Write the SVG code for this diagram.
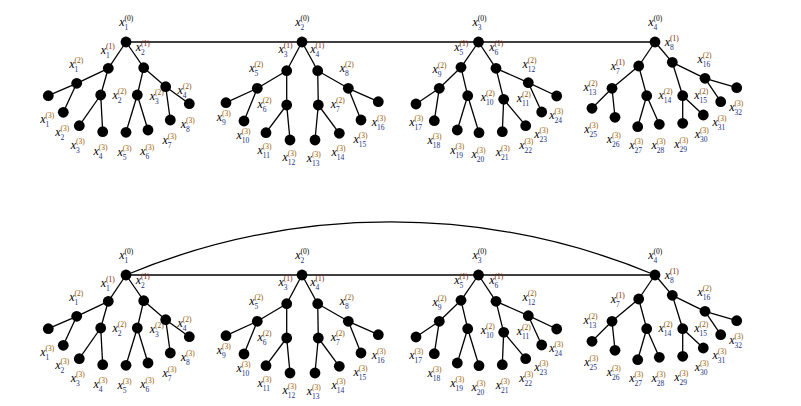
<svg xmlns="http://www.w3.org/2000/svg" width="801" height="406" viewBox="0 0 801 406">
<style>
.e{stroke:#000;stroke-width:1.3;fill:none}
circle{fill:#000}
.l{font-family:"Liberation Serif","Times New Roman",serif;font-style:italic;font-size:12px;fill:#000}
.l tspan{font-style:normal;font-size:7.5px}
.p0{fill:#000}.p1{fill:#7a2200}.p2{fill:#8a5000}.p3{fill:#9a5a00}.s{fill:#1a2f80}
</style>
<rect width="801" height="406" fill="#fff"/>
<g id="connectors">
<g id="top-edges">
<line class="e" x1="126" y1="42" x2="655" y2="42"/>
<line class="e" x1="126" y1="42" x2="108.3" y2="68.3"/><line class="e" x1="126" y1="42" x2="143.7" y2="67.7"/>
<line class="e" x1="108.3" y1="68.3" x2="76.7" y2="83.3"/><line class="e" x1="108.3" y1="68.3" x2="100.7" y2="95"/>
<line class="e" x1="143.7" y1="67.7" x2="137.3" y2="95"/><line class="e" x1="143.7" y1="67.7" x2="165.7" y2="86.7"/>
<line class="e" x1="76.7" y1="83.3" x2="48.3" y2="95.7"/><line class="e" x1="76.7" y1="83.3" x2="63.3" y2="112.3"/>
<line class="e" x1="100.7" y1="95" x2="79.3" y2="125.7"/><line class="e" x1="100.7" y1="95" x2="102.7" y2="131.7"/>
<line class="e" x1="137.3" y1="95" x2="126" y2="132.3"/><line class="e" x1="137.3" y1="95" x2="148" y2="130"/>
<line class="e" x1="165.7" y1="86.7" x2="170.3" y2="120"/><line class="e" x1="165.7" y1="86.7" x2="189.3" y2="103.7"/>
<line class="e" x1="302" y1="42" x2="286.7" y2="70.7"/><line class="e" x1="302" y1="42" x2="317.7" y2="70.7"/>
<line class="e" x1="286.7" y1="70.7" x2="257.3" y2="88.3"/><line class="e" x1="286.7" y1="70.7" x2="286.7" y2="105"/>
<line class="e" x1="317.7" y1="70.7" x2="318.3" y2="105"/><line class="e" x1="317.7" y1="70.7" x2="348.3" y2="88.3"/>
<line class="e" x1="257.3" y1="88.3" x2="226" y2="102.7"/><line class="e" x1="257.3" y1="88.3" x2="244" y2="121"/>
<line class="e" x1="286.7" y1="105" x2="266" y2="132.7"/><line class="e" x1="286.7" y1="105" x2="290" y2="140"/>
<line class="e" x1="318.3" y1="105" x2="315" y2="140"/><line class="e" x1="318.3" y1="105" x2="339.3" y2="133.3"/>
<line class="e" x1="348.3" y1="88.3" x2="361" y2="120"/><line class="e" x1="348.3" y1="88.3" x2="378.3" y2="101.7"/>
<line class="e" x1="478.5" y1="42" x2="461" y2="67.3"/><line class="e" x1="478.5" y1="42" x2="496" y2="68.3"/>
<line class="e" x1="461" y1="67.3" x2="439.3" y2="88.3"/><line class="e" x1="461" y1="67.3" x2="467.7" y2="95.7"/>
<line class="e" x1="496" y1="68.3" x2="503.7" y2="99.3"/><line class="e" x1="496" y1="68.3" x2="528.3" y2="82.7"/>
<line class="e" x1="439.3" y1="88.3" x2="416" y2="104"/><line class="e" x1="439.3" y1="88.3" x2="434.3" y2="120.7"/>
<line class="e" x1="467.7" y1="95.7" x2="457.3" y2="130"/><line class="e" x1="467.7" y1="95.7" x2="479" y2="132.7"/>
<line class="e" x1="503.7" y1="99.3" x2="502.3" y2="131.7"/><line class="e" x1="503.7" y1="99.3" x2="525.7" y2="125.7"/>
<line class="e" x1="528.3" y1="82.7" x2="541.7" y2="112"/><line class="e" x1="528.3" y1="82.7" x2="556.7" y2="96"/>
<line class="e" x1="655" y1="42" x2="638.7" y2="66"/><line class="e" x1="655" y1="42" x2="672.3" y2="62.3"/>
<line class="e" x1="638.7" y1="66" x2="612" y2="88.3"/><line class="e" x1="638.7" y1="66" x2="646.7" y2="95.7"/>
<line class="e" x1="672.3" y1="62.3" x2="682.7" y2="95.7"/><line class="e" x1="672.3" y1="62.3" x2="705" y2="78.3"/>
<line class="e" x1="612" y1="88.3" x2="592" y2="108.3"/><line class="e" x1="612" y1="88.3" x2="615" y2="117.3"/>
<line class="e" x1="646.7" y1="95.7" x2="637.7" y2="126.7"/><line class="e" x1="646.7" y1="95.7" x2="659.3" y2="124.3"/>
<line class="e" x1="682.7" y1="95.7" x2="682.7" y2="123.3"/><line class="e" x1="682.7" y1="95.7" x2="703.3" y2="115"/>
<line class="e" x1="705" y1="78.3" x2="720.7" y2="101.7"/><line class="e" x1="705" y1="78.3" x2="736.7" y2="87.7"/>
</g>
<g id="bottom-edges" transform="translate(0,233)">
<path class="e" d="M126 42A686 686 0 0 1 655 42"/>
<line class="e" x1="126" y1="42" x2="655" y2="42"/>
<line class="e" x1="126" y1="42" x2="108.3" y2="68.3"/><line class="e" x1="126" y1="42" x2="143.7" y2="67.7"/>
<line class="e" x1="108.3" y1="68.3" x2="76.7" y2="83.3"/><line class="e" x1="108.3" y1="68.3" x2="100.7" y2="95"/>
<line class="e" x1="143.7" y1="67.7" x2="137.3" y2="95"/><line class="e" x1="143.7" y1="67.7" x2="165.7" y2="86.7"/>
<line class="e" x1="76.7" y1="83.3" x2="48.3" y2="95.7"/><line class="e" x1="76.7" y1="83.3" x2="63.3" y2="112.3"/>
<line class="e" x1="100.7" y1="95" x2="79.3" y2="125.7"/><line class="e" x1="100.7" y1="95" x2="102.7" y2="131.7"/>
<line class="e" x1="137.3" y1="95" x2="126" y2="132.3"/><line class="e" x1="137.3" y1="95" x2="148" y2="130"/>
<line class="e" x1="165.7" y1="86.7" x2="170.3" y2="120"/><line class="e" x1="165.7" y1="86.7" x2="189.3" y2="103.7"/>
<line class="e" x1="302" y1="42" x2="286.7" y2="70.7"/><line class="e" x1="302" y1="42" x2="317.7" y2="70.7"/>
<line class="e" x1="286.7" y1="70.7" x2="257.3" y2="88.3"/><line class="e" x1="286.7" y1="70.7" x2="286.7" y2="105"/>
<line class="e" x1="317.7" y1="70.7" x2="318.3" y2="105"/><line class="e" x1="317.7" y1="70.7" x2="348.3" y2="88.3"/>
<line class="e" x1="257.3" y1="88.3" x2="226" y2="102.7"/><line class="e" x1="257.3" y1="88.3" x2="244" y2="121"/>
<line class="e" x1="286.7" y1="105" x2="266" y2="132.7"/><line class="e" x1="286.7" y1="105" x2="290" y2="140"/>
<line class="e" x1="318.3" y1="105" x2="315" y2="140"/><line class="e" x1="318.3" y1="105" x2="339.3" y2="133.3"/>
<line class="e" x1="348.3" y1="88.3" x2="361" y2="120"/><line class="e" x1="348.3" y1="88.3" x2="378.3" y2="101.7"/>
<line class="e" x1="478.5" y1="42" x2="461" y2="67.3"/><line class="e" x1="478.5" y1="42" x2="496" y2="68.3"/>
<line class="e" x1="461" y1="67.3" x2="439.3" y2="88.3"/><line class="e" x1="461" y1="67.3" x2="467.7" y2="95.7"/>
<line class="e" x1="496" y1="68.3" x2="503.7" y2="99.3"/><line class="e" x1="496" y1="68.3" x2="528.3" y2="82.7"/>
<line class="e" x1="439.3" y1="88.3" x2="416" y2="104"/><line class="e" x1="439.3" y1="88.3" x2="434.3" y2="120.7"/>
<line class="e" x1="467.7" y1="95.7" x2="457.3" y2="130"/><line class="e" x1="467.7" y1="95.7" x2="479" y2="132.7"/>
<line class="e" x1="503.7" y1="99.3" x2="502.3" y2="131.7"/><line class="e" x1="503.7" y1="99.3" x2="525.7" y2="125.7"/>
<line class="e" x1="528.3" y1="82.7" x2="541.7" y2="112"/><line class="e" x1="528.3" y1="82.7" x2="556.7" y2="96"/>
<line class="e" x1="655" y1="42" x2="638.7" y2="66"/><line class="e" x1="655" y1="42" x2="672.3" y2="62.3"/>
<line class="e" x1="638.7" y1="66" x2="612" y2="88.3"/><line class="e" x1="638.7" y1="66" x2="646.7" y2="95.7"/>
<line class="e" x1="672.3" y1="62.3" x2="682.7" y2="95.7"/><line class="e" x1="672.3" y1="62.3" x2="705" y2="78.3"/>
<line class="e" x1="612" y1="88.3" x2="592" y2="108.3"/><line class="e" x1="612" y1="88.3" x2="615" y2="117.3"/>
<line class="e" x1="646.7" y1="95.7" x2="637.7" y2="126.7"/><line class="e" x1="646.7" y1="95.7" x2="659.3" y2="124.3"/>
<line class="e" x1="682.7" y1="95.7" x2="682.7" y2="123.3"/><line class="e" x1="682.7" y1="95.7" x2="703.3" y2="115"/>
<line class="e" x1="705" y1="78.3" x2="720.7" y2="101.7"/><line class="e" x1="705" y1="78.3" x2="736.7" y2="87.7"/>
</g>
</g>
<g id="top-nodes">
<g id="t-a0"><circle cx="126" cy="42" r="5.4"/><text class="l" transform="translate(119.2,25.8)">x<tspan class="p0" x="5.3" y="-5">(0)</tspan><tspan class="s" x="5.3" y="4">1</tspan></text></g>
<g id="t-a1"><circle cx="108.3" cy="68.3" r="5.4"/><text class="l" transform="translate(100.8,54.2)">x<tspan class="p1" x="5.3" y="-5">(1)</tspan><tspan class="s" x="5.3" y="4">1</tspan></text></g>
<g id="t-a2"><circle cx="143.7" cy="67.7" r="5.4"/><text class="l" transform="translate(135.8,50.8)">x<tspan class="p1" x="5.3" y="-5">(1)</tspan><tspan class="s" x="5.3" y="4">2</tspan></text></g>
<g id="t-a3"><circle cx="76.7" cy="83.3" r="5.4"/><text class="l" transform="translate(69.2,67.5)">x<tspan class="p2" x="5.3" y="-5">(2)</tspan><tspan class="s" x="5.3" y="4">1</tspan></text></g>
<g id="t-a4"><circle cx="100.7" cy="95" r="5.4"/><text class="l" transform="translate(112.5,99.2)">x<tspan class="p2" x="5.3" y="-5">(2)</tspan><tspan class="s" x="5.3" y="4">2</tspan></text></g>
<g id="t-a5"><circle cx="137.3" cy="95" r="5.4"/><text class="l" transform="translate(149.8,100.2)">x<tspan class="p2" x="5.3" y="-5">(2)</tspan><tspan class="s" x="5.3" y="4">3</tspan></text></g>
<g id="t-a6"><circle cx="165.7" cy="86.7" r="5.4"/><text class="l" transform="translate(177.5,94.2)">x<tspan class="p2" x="5.3" y="-5">(2)</tspan><tspan class="s" x="5.3" y="4">4</tspan></text></g>
<g id="t-a7"><circle cx="48.3" cy="95.7" r="5.4"/><text class="l" transform="translate(40.2,122.5)">x<tspan class="p3" x="5.3" y="-5">(3)</tspan><tspan class="s" x="5.3" y="4">1</tspan></text></g>
<g id="t-a8"><circle cx="63.3" cy="112.3" r="5.4"/><text class="l" transform="translate(55.2,135.8)">x<tspan class="p3" x="5.3" y="-5">(3)</tspan><tspan class="s" x="5.3" y="4">2</tspan></text></g>
<g id="t-a9"><circle cx="79.3" cy="125.7" r="5.4"/><text class="l" transform="translate(70.8,149.2)">x<tspan class="p3" x="5.3" y="-5">(3)</tspan><tspan class="s" x="5.3" y="4">3</tspan></text></g>
<g id="t-a10"><circle cx="102.7" cy="131.7" r="5.4"/><text class="l" transform="translate(93.5,154.8)">x<tspan class="p3" x="5.3" y="-5">(3)</tspan><tspan class="s" x="5.3" y="4">4</tspan></text></g>
<g id="t-a11"><circle cx="126" cy="132.3" r="5.4"/><text class="l" transform="translate(117.5,155.8)">x<tspan class="p3" x="5.3" y="-5">(3)</tspan><tspan class="s" x="5.3" y="4">5</tspan></text></g>
<g id="t-a12"><circle cx="148" cy="130" r="5.4"/><text class="l" transform="translate(140.2,154.8)">x<tspan class="p3" x="5.3" y="-5">(3)</tspan><tspan class="s" x="5.3" y="4">6</tspan></text></g>
<g id="t-a13"><circle cx="170.3" cy="120" r="5.4"/><text class="l" transform="translate(162.5,144.2)">x<tspan class="p3" x="5.3" y="-5">(3)</tspan><tspan class="s" x="5.3" y="4">7</tspan></text></g>
<g id="t-a14"><circle cx="189.3" cy="103.7" r="5.4"/><text class="l" transform="translate(180.8,128.2)">x<tspan class="p3" x="5.3" y="-5">(3)</tspan><tspan class="s" x="5.3" y="4">8</tspan></text></g>
<g id="t-b0"><circle cx="302" cy="42" r="5.4"/><text class="l" transform="translate(295.2,25.8)">x<tspan class="p0" x="5.3" y="-5">(0)</tspan><tspan class="s" x="5.3" y="4">2</tspan></text></g>
<g id="t-b1"><circle cx="286.7" cy="70.7" r="5.4"/><text class="l" transform="translate(278.5,52.5)">x<tspan class="p1" x="5.3" y="-5">(1)</tspan><tspan class="s" x="5.3" y="4">3</tspan></text></g>
<g id="t-b2"><circle cx="317.7" cy="70.7" r="5.4"/><text class="l" transform="translate(310.2,52.5)">x<tspan class="p1" x="5.3" y="-5">(1)</tspan><tspan class="s" x="5.3" y="4">4</tspan></text></g>
<g id="t-b3"><circle cx="257.3" cy="88.3" r="5.4"/><text class="l" transform="translate(249.2,71.5)">x<tspan class="p2" x="5.3" y="-5">(2)</tspan><tspan class="s" x="5.3" y="4">5</tspan></text></g>
<g id="t-b4"><circle cx="286.7" cy="105" r="5.4"/><text class="l" transform="translate(257.5,107.5)">x<tspan class="p2" x="5.3" y="-5">(2)</tspan><tspan class="s" x="5.3" y="4">6</tspan></text></g>
<g id="t-b5"><circle cx="318.3" cy="105" r="5.4"/><text class="l" transform="translate(330.8,107.5)">x<tspan class="p2" x="5.3" y="-5">(2)</tspan><tspan class="s" x="5.3" y="4">7</tspan></text></g>
<g id="t-b6"><circle cx="348.3" cy="88.3" r="5.4"/><text class="l" transform="translate(339.8,71.5)">x<tspan class="p2" x="5.3" y="-5">(2)</tspan><tspan class="s" x="5.3" y="4">8</tspan></text></g>
<g id="t-b7"><circle cx="226" cy="102.7" r="5.4"/><text class="l" transform="translate(216.8,120.8)">x<tspan class="p3" x="5.3" y="-5">(3)</tspan><tspan class="s" x="5.3" y="4">9</tspan></text></g>
<g id="t-b8"><circle cx="244" cy="121" r="5.4"/><text class="l" transform="translate(236.5,139.2)">x<tspan class="p3" x="5.3" y="-5">(3)</tspan><tspan class="s" x="5.3" y="4">10</tspan></text></g>
<g id="t-b9"><circle cx="266" cy="132.7" r="5.4"/><text class="l" transform="translate(257.5,154.2)">x<tspan class="p3" x="5.3" y="-5">(3)</tspan><tspan class="s" x="5.3" y="4">11</tspan></text></g>
<g id="t-b10"><circle cx="290" cy="140" r="5.4"/><text class="l" transform="translate(282.5,160.8)">x<tspan class="p3" x="5.3" y="-5">(3)</tspan><tspan class="s" x="5.3" y="4">12</tspan></text></g>
<g id="t-b11"><circle cx="315" cy="140" r="5.4"/><text class="l" transform="translate(306.8,161.5)">x<tspan class="p3" x="5.3" y="-5">(3)</tspan><tspan class="s" x="5.3" y="4">13</tspan></text></g>
<g id="t-b12"><circle cx="339.3" cy="133.3" r="5.4"/><text class="l" transform="translate(331.5,155.8)">x<tspan class="p3" x="5.3" y="-5">(3)</tspan><tspan class="s" x="5.3" y="4">14</tspan></text></g>
<g id="t-b13"><circle cx="361" cy="120" r="5.4"/><text class="l" transform="translate(353.5,142.5)">x<tspan class="p3" x="5.3" y="-5">(3)</tspan><tspan class="s" x="5.3" y="4">15</tspan></text></g>
<g id="t-b14"><circle cx="378.3" cy="101.7" r="5.4"/><text class="l" transform="translate(371.8,125.8)">x<tspan class="p3" x="5.3" y="-5">(3)</tspan><tspan class="s" x="5.3" y="4">16</tspan></text></g>
<g id="t-c0"><circle cx="478.5" cy="42" r="5.4"/><text class="l" transform="translate(472.5,25.8)">x<tspan class="p0" x="5.3" y="-5">(0)</tspan><tspan class="s" x="5.3" y="4">3</tspan></text></g>
<g id="t-c1"><circle cx="461" cy="67.3" r="5.4"/><text class="l" transform="translate(454.2,50.8)">x<tspan class="p1" x="5.3" y="-5">(1)</tspan><tspan class="s" x="5.3" y="4">5</tspan></text></g>
<g id="t-c2"><circle cx="496" cy="68.3" r="5.4"/><text class="l" transform="translate(489.2,50.8)">x<tspan class="p1" x="5.3" y="-5">(1)</tspan><tspan class="s" x="5.3" y="4">6</tspan></text></g>
<g id="t-c3"><circle cx="439.3" cy="88.3" r="5.4"/><text class="l" transform="translate(432.5,72.5)">x<tspan class="p2" x="5.3" y="-5">(2)</tspan><tspan class="s" x="5.3" y="4">9</tspan></text></g>
<g id="t-c4"><circle cx="467.7" cy="95.7" r="5.4"/><text class="l" transform="translate(480.8,100.8)">x<tspan class="p2" x="5.3" y="-5">(2)</tspan><tspan class="s" x="5.3" y="4">10</tspan></text></g>
<g id="t-c5"><circle cx="503.7" cy="99.3" r="5.4"/><text class="l" transform="translate(516.8,101.8)">x<tspan class="p2" x="5.3" y="-5">(2)</tspan><tspan class="s" x="5.3" y="4">11</tspan></text></g>
<g id="t-c6"><circle cx="528.3" cy="82.7" r="5.4"/><text class="l" transform="translate(522.5,67.5)">x<tspan class="p2" x="5.3" y="-5">(2)</tspan><tspan class="s" x="5.3" y="4">12</tspan></text></g>
<g id="t-c7"><circle cx="416" cy="104" r="5.4"/><text class="l" transform="translate(409.2,125.8)">x<tspan class="p3" x="5.3" y="-5">(3)</tspan><tspan class="s" x="5.3" y="4">17</tspan></text></g>
<g id="t-c8"><circle cx="434.3" cy="120.7" r="5.4"/><text class="l" transform="translate(427.5,144.2)">x<tspan class="p3" x="5.3" y="-5">(3)</tspan><tspan class="s" x="5.3" y="4">18</tspan></text></g>
<g id="t-c9"><circle cx="457.3" cy="130" r="5.4"/><text class="l" transform="translate(450.2,154.2)">x<tspan class="p3" x="5.3" y="-5">(3)</tspan><tspan class="s" x="5.3" y="4">19</tspan></text></g>
<g id="t-c10"><circle cx="479" cy="132.7" r="5.4"/><text class="l" transform="translate(471.5,157.5)">x<tspan class="p3" x="5.3" y="-5">(3)</tspan><tspan class="s" x="5.3" y="4">20</tspan></text></g>
<g id="t-c11"><circle cx="502.3" cy="131.7" r="5.4"/><text class="l" transform="translate(495.8,155.8)">x<tspan class="p3" x="5.3" y="-5">(3)</tspan><tspan class="s" x="5.3" y="4">21</tspan></text></g>
<g id="t-c12"><circle cx="525.7" cy="125.7" r="5.4"/><text class="l" transform="translate(519.2,149.2)">x<tspan class="p3" x="5.3" y="-5">(3)</tspan><tspan class="s" x="5.3" y="4">22</tspan></text></g>
<g id="t-c13"><circle cx="541.7" cy="112" r="5.4"/><text class="l" transform="translate(534.2,137.5)">x<tspan class="p3" x="5.3" y="-5">(3)</tspan><tspan class="s" x="5.3" y="4">23</tspan></text></g>
<g id="t-c14"><circle cx="556.7" cy="96" r="5.4"/><text class="l" transform="translate(549.2,119.2)">x<tspan class="p3" x="5.3" y="-5">(3)</tspan><tspan class="s" x="5.3" y="4">24</tspan></text></g>
<g id="t-d0"><circle cx="655" cy="42" r="5.4"/><text class="l" transform="translate(648.2,25.8)">x<tspan class="p0" x="5.3" y="-5">(0)</tspan><tspan class="s" x="5.3" y="4">4</tspan></text></g>
<g id="t-d1"><circle cx="638.7" cy="66" r="5.4"/><text class="l" transform="translate(610.8,70.2)">x<tspan class="p1" x="5.3" y="-5">(1)</tspan><tspan class="s" x="5.3" y="4">7</tspan></text></g>
<g id="t-d2"><circle cx="672.3" cy="62.3" r="5.4"/><text class="l" transform="translate(664.8,45.8)">x<tspan class="p1" x="5.3" y="-5">(1)</tspan><tspan class="s" x="5.3" y="4">8</tspan></text></g>
<g id="t-d3"><circle cx="612" cy="88.3" r="5.4"/><text class="l" transform="translate(583.5,90.8)">x<tspan class="p2" x="5.3" y="-5">(2)</tspan><tspan class="s" x="5.3" y="4">13</tspan></text></g>
<g id="t-d4"><circle cx="646.7" cy="95.7" r="5.4"/><text class="l" transform="translate(658.5,99.2)">x<tspan class="p2" x="5.3" y="-5">(2)</tspan><tspan class="s" x="5.3" y="4">14</tspan></text></g>
<g id="t-d5"><circle cx="682.7" cy="95.7" r="5.4"/><text class="l" transform="translate(694.2,99.2)">x<tspan class="p2" x="5.3" y="-5">(2)</tspan><tspan class="s" x="5.3" y="4">15</tspan></text></g>
<g id="t-d6"><circle cx="705" cy="78.3" r="5.4"/><text class="l" transform="translate(697.5,62.5)">x<tspan class="p2" x="5.3" y="-5">(2)</tspan><tspan class="s" x="5.3" y="4">16</tspan></text></g>
<g id="t-d7"><circle cx="592" cy="108.3" r="5.4"/><text class="l" transform="translate(584.2,132.5)">x<tspan class="p3" x="5.3" y="-5">(3)</tspan><tspan class="s" x="5.3" y="4">25</tspan></text></g>
<g id="t-d8"><circle cx="615" cy="117.3" r="5.4"/><text class="l" transform="translate(606.8,142.5)">x<tspan class="p3" x="5.3" y="-5">(3)</tspan><tspan class="s" x="5.3" y="4">26</tspan></text></g>
<g id="t-d9"><circle cx="637.7" cy="126.7" r="5.4"/><text class="l" transform="translate(629.2,149.2)">x<tspan class="p3" x="5.3" y="-5">(3)</tspan><tspan class="s" x="5.3" y="4">27</tspan></text></g>
<g id="t-d10"><circle cx="659.3" cy="124.3" r="5.4"/><text class="l" transform="translate(651.5,149.2)">x<tspan class="p3" x="5.3" y="-5">(3)</tspan><tspan class="s" x="5.3" y="4">28</tspan></text></g>
<g id="t-d11"><circle cx="682.7" cy="123.3" r="5.4"/><text class="l" transform="translate(674.2,147.5)">x<tspan class="p3" x="5.3" y="-5">(3)</tspan><tspan class="s" x="5.3" y="4">29</tspan></text></g>
<g id="t-d12"><circle cx="703.3" cy="115" r="5.4"/><text class="l" transform="translate(694.8,137.5)">x<tspan class="p3" x="5.3" y="-5">(3)</tspan><tspan class="s" x="5.3" y="4">30</tspan></text></g>
<g id="t-d13"><circle cx="720.7" cy="101.7" r="5.4"/><text class="l" transform="translate(712.5,125.8)">x<tspan class="p3" x="5.3" y="-5">(3)</tspan><tspan class="s" x="5.3" y="4">31</tspan></text></g>
<g id="t-d14"><circle cx="736.7" cy="87.7" r="5.4"/><text class="l" transform="translate(729.2,110.8)">x<tspan class="p3" x="5.3" y="-5">(3)</tspan><tspan class="s" x="5.3" y="4">32</tspan></text></g>
</g>
<g id="bottom-nodes" transform="translate(0,233)">
<g id="b-a0"><circle cx="126" cy="42" r="5.4"/><text class="l" transform="translate(119.2,25.8)">x<tspan class="p0" x="5.3" y="-5">(0)</tspan><tspan class="s" x="5.3" y="4">1</tspan></text></g>
<g id="b-a1"><circle cx="108.3" cy="68.3" r="5.4"/><text class="l" transform="translate(100.8,54.2)">x<tspan class="p1" x="5.3" y="-5">(1)</tspan><tspan class="s" x="5.3" y="4">1</tspan></text></g>
<g id="b-a2"><circle cx="143.7" cy="67.7" r="5.4"/><text class="l" transform="translate(135.8,50.8)">x<tspan class="p1" x="5.3" y="-5">(1)</tspan><tspan class="s" x="5.3" y="4">2</tspan></text></g>
<g id="b-a3"><circle cx="76.7" cy="83.3" r="5.4"/><text class="l" transform="translate(69.2,67.5)">x<tspan class="p2" x="5.3" y="-5">(2)</tspan><tspan class="s" x="5.3" y="4">1</tspan></text></g>
<g id="b-a4"><circle cx="100.7" cy="95" r="5.4"/><text class="l" transform="translate(112.5,99.2)">x<tspan class="p2" x="5.3" y="-5">(2)</tspan><tspan class="s" x="5.3" y="4">2</tspan></text></g>
<g id="b-a5"><circle cx="137.3" cy="95" r="5.4"/><text class="l" transform="translate(149.8,100.2)">x<tspan class="p2" x="5.3" y="-5">(2)</tspan><tspan class="s" x="5.3" y="4">3</tspan></text></g>
<g id="b-a6"><circle cx="165.7" cy="86.7" r="5.4"/><text class="l" transform="translate(177.5,94.2)">x<tspan class="p2" x="5.3" y="-5">(2)</tspan><tspan class="s" x="5.3" y="4">4</tspan></text></g>
<g id="b-a7"><circle cx="48.3" cy="95.7" r="5.4"/><text class="l" transform="translate(40.2,122.5)">x<tspan class="p3" x="5.3" y="-5">(3)</tspan><tspan class="s" x="5.3" y="4">1</tspan></text></g>
<g id="b-a8"><circle cx="63.3" cy="112.3" r="5.4"/><text class="l" transform="translate(55.2,135.8)">x<tspan class="p3" x="5.3" y="-5">(3)</tspan><tspan class="s" x="5.3" y="4">2</tspan></text></g>
<g id="b-a9"><circle cx="79.3" cy="125.7" r="5.4"/><text class="l" transform="translate(70.8,149.2)">x<tspan class="p3" x="5.3" y="-5">(3)</tspan><tspan class="s" x="5.3" y="4">3</tspan></text></g>
<g id="b-a10"><circle cx="102.7" cy="131.7" r="5.4"/><text class="l" transform="translate(93.5,154.8)">x<tspan class="p3" x="5.3" y="-5">(3)</tspan><tspan class="s" x="5.3" y="4">4</tspan></text></g>
<g id="b-a11"><circle cx="126" cy="132.3" r="5.4"/><text class="l" transform="translate(117.5,155.8)">x<tspan class="p3" x="5.3" y="-5">(3)</tspan><tspan class="s" x="5.3" y="4">5</tspan></text></g>
<g id="b-a12"><circle cx="148" cy="130" r="5.4"/><text class="l" transform="translate(140.2,154.8)">x<tspan class="p3" x="5.3" y="-5">(3)</tspan><tspan class="s" x="5.3" y="4">6</tspan></text></g>
<g id="b-a13"><circle cx="170.3" cy="120" r="5.4"/><text class="l" transform="translate(162.5,144.2)">x<tspan class="p3" x="5.3" y="-5">(3)</tspan><tspan class="s" x="5.3" y="4">7</tspan></text></g>
<g id="b-a14"><circle cx="189.3" cy="103.7" r="5.4"/><text class="l" transform="translate(180.8,128.2)">x<tspan class="p3" x="5.3" y="-5">(3)</tspan><tspan class="s" x="5.3" y="4">8</tspan></text></g>
<g id="b-b0"><circle cx="302" cy="42" r="5.4"/><text class="l" transform="translate(295.2,25.8)">x<tspan class="p0" x="5.3" y="-5">(0)</tspan><tspan class="s" x="5.3" y="4">2</tspan></text></g>
<g id="b-b1"><circle cx="286.7" cy="70.7" r="5.4"/><text class="l" transform="translate(278.5,52.5)">x<tspan class="p1" x="5.3" y="-5">(1)</tspan><tspan class="s" x="5.3" y="4">3</tspan></text></g>
<g id="b-b2"><circle cx="317.7" cy="70.7" r="5.4"/><text class="l" transform="translate(310.2,52.5)">x<tspan class="p1" x="5.3" y="-5">(1)</tspan><tspan class="s" x="5.3" y="4">4</tspan></text></g>
<g id="b-b3"><circle cx="257.3" cy="88.3" r="5.4"/><text class="l" transform="translate(249.2,71.5)">x<tspan class="p2" x="5.3" y="-5">(2)</tspan><tspan class="s" x="5.3" y="4">5</tspan></text></g>
<g id="b-b4"><circle cx="286.7" cy="105" r="5.4"/><text class="l" transform="translate(257.5,107.5)">x<tspan class="p2" x="5.3" y="-5">(2)</tspan><tspan class="s" x="5.3" y="4">6</tspan></text></g>
<g id="b-b5"><circle cx="318.3" cy="105" r="5.4"/><text class="l" transform="translate(330.8,107.5)">x<tspan class="p2" x="5.3" y="-5">(2)</tspan><tspan class="s" x="5.3" y="4">7</tspan></text></g>
<g id="b-b6"><circle cx="348.3" cy="88.3" r="5.4"/><text class="l" transform="translate(339.8,71.5)">x<tspan class="p2" x="5.3" y="-5">(2)</tspan><tspan class="s" x="5.3" y="4">8</tspan></text></g>
<g id="b-b7"><circle cx="226" cy="102.7" r="5.4"/><text class="l" transform="translate(216.8,120.8)">x<tspan class="p3" x="5.3" y="-5">(3)</tspan><tspan class="s" x="5.3" y="4">9</tspan></text></g>
<g id="b-b8"><circle cx="244" cy="121" r="5.4"/><text class="l" transform="translate(236.5,139.2)">x<tspan class="p3" x="5.3" y="-5">(3)</tspan><tspan class="s" x="5.3" y="4">10</tspan></text></g>
<g id="b-b9"><circle cx="266" cy="132.7" r="5.4"/><text class="l" transform="translate(257.5,154.2)">x<tspan class="p3" x="5.3" y="-5">(3)</tspan><tspan class="s" x="5.3" y="4">11</tspan></text></g>
<g id="b-b10"><circle cx="290" cy="140" r="5.4"/><text class="l" transform="translate(282.5,160.8)">x<tspan class="p3" x="5.3" y="-5">(3)</tspan><tspan class="s" x="5.3" y="4">12</tspan></text></g>
<g id="b-b11"><circle cx="315" cy="140" r="5.4"/><text class="l" transform="translate(306.8,161.5)">x<tspan class="p3" x="5.3" y="-5">(3)</tspan><tspan class="s" x="5.3" y="4">13</tspan></text></g>
<g id="b-b12"><circle cx="339.3" cy="133.3" r="5.4"/><text class="l" transform="translate(331.5,155.8)">x<tspan class="p3" x="5.3" y="-5">(3)</tspan><tspan class="s" x="5.3" y="4">14</tspan></text></g>
<g id="b-b13"><circle cx="361" cy="120" r="5.4"/><text class="l" transform="translate(353.5,142.5)">x<tspan class="p3" x="5.3" y="-5">(3)</tspan><tspan class="s" x="5.3" y="4">15</tspan></text></g>
<g id="b-b14"><circle cx="378.3" cy="101.7" r="5.4"/><text class="l" transform="translate(371.8,125.8)">x<tspan class="p3" x="5.3" y="-5">(3)</tspan><tspan class="s" x="5.3" y="4">16</tspan></text></g>
<g id="b-c0"><circle cx="478.5" cy="42" r="5.4"/><text class="l" transform="translate(472.5,25.8)">x<tspan class="p0" x="5.3" y="-5">(0)</tspan><tspan class="s" x="5.3" y="4">3</tspan></text></g>
<g id="b-c1"><circle cx="461" cy="67.3" r="5.4"/><text class="l" transform="translate(454.2,50.8)">x<tspan class="p1" x="5.3" y="-5">(1)</tspan><tspan class="s" x="5.3" y="4">5</tspan></text></g>
<g id="b-c2"><circle cx="496" cy="68.3" r="5.4"/><text class="l" transform="translate(489.2,50.8)">x<tspan class="p1" x="5.3" y="-5">(1)</tspan><tspan class="s" x="5.3" y="4">6</tspan></text></g>
<g id="b-c3"><circle cx="439.3" cy="88.3" r="5.4"/><text class="l" transform="translate(432.5,72.5)">x<tspan class="p2" x="5.3" y="-5">(2)</tspan><tspan class="s" x="5.3" y="4">9</tspan></text></g>
<g id="b-c4"><circle cx="467.7" cy="95.7" r="5.4"/><text class="l" transform="translate(480.8,100.8)">x<tspan class="p2" x="5.3" y="-5">(2)</tspan><tspan class="s" x="5.3" y="4">10</tspan></text></g>
<g id="b-c5"><circle cx="503.7" cy="99.3" r="5.4"/><text class="l" transform="translate(516.8,101.8)">x<tspan class="p2" x="5.3" y="-5">(2)</tspan><tspan class="s" x="5.3" y="4">11</tspan></text></g>
<g id="b-c6"><circle cx="528.3" cy="82.7" r="5.4"/><text class="l" transform="translate(522.5,67.5)">x<tspan class="p2" x="5.3" y="-5">(2)</tspan><tspan class="s" x="5.3" y="4">12</tspan></text></g>
<g id="b-c7"><circle cx="416" cy="104" r="5.4"/><text class="l" transform="translate(409.2,125.8)">x<tspan class="p3" x="5.3" y="-5">(3)</tspan><tspan class="s" x="5.3" y="4">17</tspan></text></g>
<g id="b-c8"><circle cx="434.3" cy="120.7" r="5.4"/><text class="l" transform="translate(427.5,144.2)">x<tspan class="p3" x="5.3" y="-5">(3)</tspan><tspan class="s" x="5.3" y="4">18</tspan></text></g>
<g id="b-c9"><circle cx="457.3" cy="130" r="5.4"/><text class="l" transform="translate(450.2,154.2)">x<tspan class="p3" x="5.3" y="-5">(3)</tspan><tspan class="s" x="5.3" y="4">19</tspan></text></g>
<g id="b-c10"><circle cx="479" cy="132.7" r="5.4"/><text class="l" transform="translate(471.5,157.5)">x<tspan class="p3" x="5.3" y="-5">(3)</tspan><tspan class="s" x="5.3" y="4">20</tspan></text></g>
<g id="b-c11"><circle cx="502.3" cy="131.7" r="5.4"/><text class="l" transform="translate(495.8,155.8)">x<tspan class="p3" x="5.3" y="-5">(3)</tspan><tspan class="s" x="5.3" y="4">21</tspan></text></g>
<g id="b-c12"><circle cx="525.7" cy="125.7" r="5.4"/><text class="l" transform="translate(519.2,149.2)">x<tspan class="p3" x="5.3" y="-5">(3)</tspan><tspan class="s" x="5.3" y="4">22</tspan></text></g>
<g id="b-c13"><circle cx="541.7" cy="112" r="5.4"/><text class="l" transform="translate(534.2,137.5)">x<tspan class="p3" x="5.3" y="-5">(3)</tspan><tspan class="s" x="5.3" y="4">23</tspan></text></g>
<g id="b-c14"><circle cx="556.7" cy="96" r="5.4"/><text class="l" transform="translate(549.2,119.2)">x<tspan class="p3" x="5.3" y="-5">(3)</tspan><tspan class="s" x="5.3" y="4">24</tspan></text></g>
<g id="b-d0"><circle cx="655" cy="42" r="5.4"/><text class="l" transform="translate(648.2,25.8)">x<tspan class="p0" x="5.3" y="-5">(0)</tspan><tspan class="s" x="5.3" y="4">4</tspan></text></g>
<g id="b-d1"><circle cx="638.7" cy="66" r="5.4"/><text class="l" transform="translate(610.8,70.2)">x<tspan class="p1" x="5.3" y="-5">(1)</tspan><tspan class="s" x="5.3" y="4">7</tspan></text></g>
<g id="b-d2"><circle cx="672.3" cy="62.3" r="5.4"/><text class="l" transform="translate(664.8,45.8)">x<tspan class="p1" x="5.3" y="-5">(1)</tspan><tspan class="s" x="5.3" y="4">8</tspan></text></g>
<g id="b-d3"><circle cx="612" cy="88.3" r="5.4"/><text class="l" transform="translate(583.5,90.8)">x<tspan class="p2" x="5.3" y="-5">(2)</tspan><tspan class="s" x="5.3" y="4">13</tspan></text></g>
<g id="b-d4"><circle cx="646.7" cy="95.7" r="5.4"/><text class="l" transform="translate(658.5,99.2)">x<tspan class="p2" x="5.3" y="-5">(2)</tspan><tspan class="s" x="5.3" y="4">14</tspan></text></g>
<g id="b-d5"><circle cx="682.7" cy="95.7" r="5.4"/><text class="l" transform="translate(694.2,99.2)">x<tspan class="p2" x="5.3" y="-5">(2)</tspan><tspan class="s" x="5.3" y="4">15</tspan></text></g>
<g id="b-d6"><circle cx="705" cy="78.3" r="5.4"/><text class="l" transform="translate(697.5,62.5)">x<tspan class="p2" x="5.3" y="-5">(2)</tspan><tspan class="s" x="5.3" y="4">16</tspan></text></g>
<g id="b-d7"><circle cx="592" cy="108.3" r="5.4"/><text class="l" transform="translate(584.2,132.5)">x<tspan class="p3" x="5.3" y="-5">(3)</tspan><tspan class="s" x="5.3" y="4">25</tspan></text></g>
<g id="b-d8"><circle cx="615" cy="117.3" r="5.4"/><text class="l" transform="translate(606.8,142.5)">x<tspan class="p3" x="5.3" y="-5">(3)</tspan><tspan class="s" x="5.3" y="4">26</tspan></text></g>
<g id="b-d9"><circle cx="637.7" cy="126.7" r="5.4"/><text class="l" transform="translate(629.2,149.2)">x<tspan class="p3" x="5.3" y="-5">(3)</tspan><tspan class="s" x="5.3" y="4">27</tspan></text></g>
<g id="b-d10"><circle cx="659.3" cy="124.3" r="5.4"/><text class="l" transform="translate(651.5,149.2)">x<tspan class="p3" x="5.3" y="-5">(3)</tspan><tspan class="s" x="5.3" y="4">28</tspan></text></g>
<g id="b-d11"><circle cx="682.7" cy="123.3" r="5.4"/><text class="l" transform="translate(674.2,147.5)">x<tspan class="p3" x="5.3" y="-5">(3)</tspan><tspan class="s" x="5.3" y="4">29</tspan></text></g>
<g id="b-d12"><circle cx="703.3" cy="115" r="5.4"/><text class="l" transform="translate(694.8,137.5)">x<tspan class="p3" x="5.3" y="-5">(3)</tspan><tspan class="s" x="5.3" y="4">30</tspan></text></g>
<g id="b-d13"><circle cx="720.7" cy="101.7" r="5.4"/><text class="l" transform="translate(712.5,125.8)">x<tspan class="p3" x="5.3" y="-5">(3)</tspan><tspan class="s" x="5.3" y="4">31</tspan></text></g>
<g id="b-d14"><circle cx="736.7" cy="87.7" r="5.4"/><text class="l" transform="translate(729.2,110.8)">x<tspan class="p3" x="5.3" y="-5">(3)</tspan><tspan class="s" x="5.3" y="4">32</tspan></text></g>
</g>
</svg>
